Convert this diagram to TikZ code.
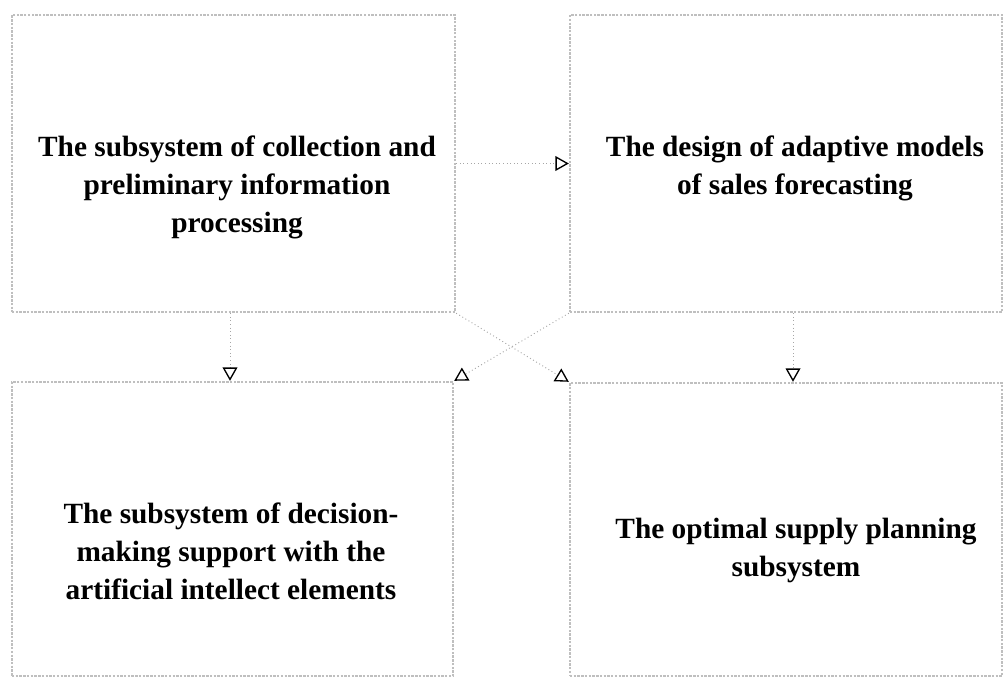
\documentclass[tikz,border=0pt]{standalone}
\usepackage{fontspec}
\setmainfont{Liberation Serif}
\usetikzlibrary{fit}
\usetikzlibrary{arrows.meta}
\tikzstyle{subsystem}=[draw=gray!50, densely dotted, line width=1.8pt, inner sep=0]
\tikzstyle{caption}=[align=center, font=\bfseries\fontsize{22}{28.5}\selectfont]
\tikzstyle{flow}=[draw=gray!70, dotted, line width=0.7pt, -{Triangle[open, length=10pt, width=11pt, black, line width=1pt]}]

\begin{document}
\begin{tikzpicture}[x=0.75pt, y=-0.75pt]
      \useasboundingbox (0, 0) rectangle (1005, 682);

      \coordinate (collect_nw) at (12, 15);
      \coordinate (collect_se) at (455, 312);
      \node[subsystem, fit=(collect_nw) (collect_se)] (collect) {};
      \node[caption] (collect_text) at (237, 187) {The subsystem of collection and\\preliminary information\\processing};

      \coordinate (design_nw) at (570, 15);
      \coordinate (design_se) at (1002, 312);
      \node[subsystem, fit=(design_nw) (design_se)] (design) {};
      \node[caption] (design_text) at (795, 168) {The design of adaptive models\\of sales forecasting};

      \coordinate (decision_nw) at (12, 382);
      \coordinate (decision_se) at (453, 676);
      \node[subsystem, fit=(decision_nw) (decision_se)] (decision) {};
      \node[caption] (decision_text) at (231, 551) {The subsystem of decision-\\making support with the\\artificial intellect elements};

      \coordinate (supply_nw) at (570, 383);
      \coordinate (supply_se) at (1002, 676);
      \node[subsystem, fit=(supply_nw) (supply_se)] (supply) {};
      \node[caption] (supply_text) at (796, 550) {The optimal supply planning\\subsystem};

      \draw[flow] (collect) -- (design);
      \draw[flow] (230, 0 |- collect.south) -- (230, 0 |- decision.north);
      \draw[flow] (793, 0 |- design.south) -- (793, 0 |- supply.north);
      \draw[flow] (collect.south east) -- (supply.north west);
      \draw[flow] (design.south west) -- (decision.north east);
    \end{tikzpicture}
\end{document}
